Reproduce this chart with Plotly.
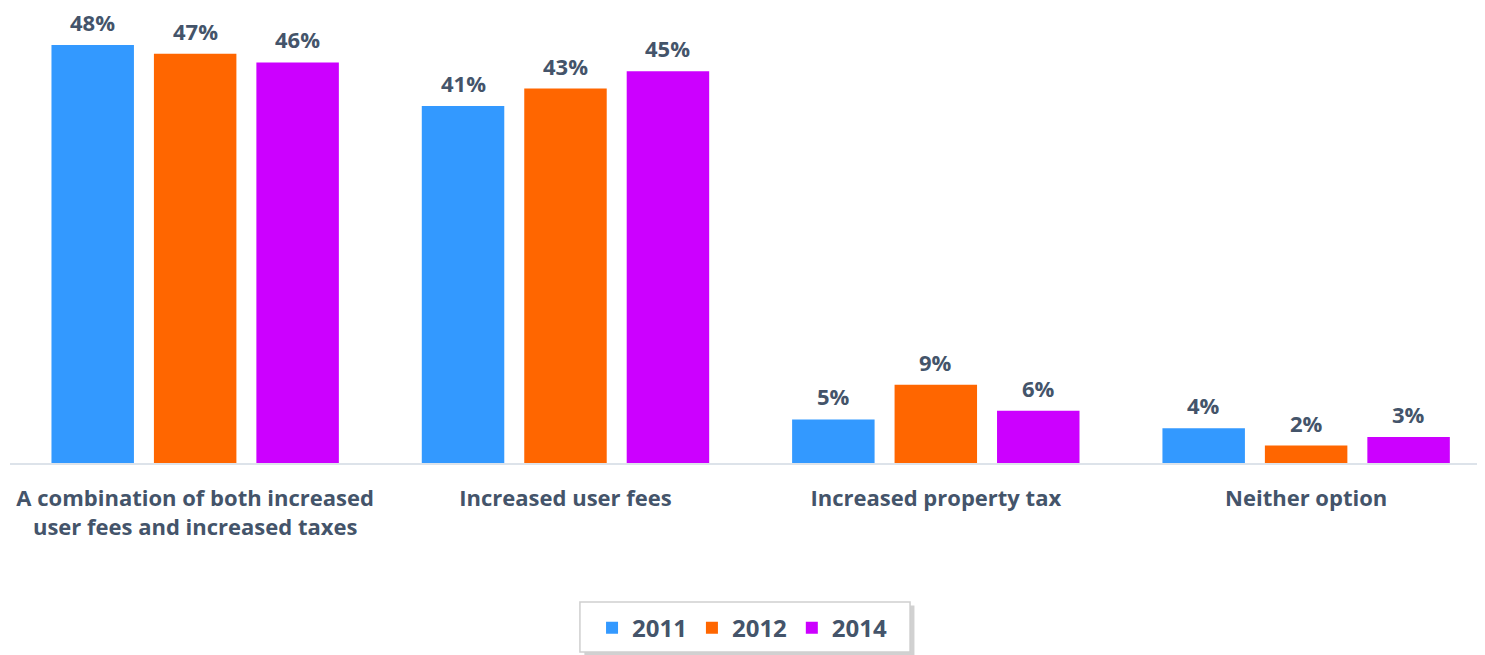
import plotly.graph_objects as go

categories = ["A combination of both increased<br>user fees and increased taxes",
              "Increased user fees", "Increased property tax", "Neither option"]
years = ["2011", "2012", "2014"]
values_2011 = [48, 41, 5, 4]
values_2012 = [47, 43, 9, 2]
values_2014 = [46, 45, 6, 3]
colors = ["#3399FF", "#FF6600", "#CC00FF"]

TEXT = "#44546A"
FONT = "Open Sans"
BARGAP = 0.17
BARGROUPGAP = 0.195

series = [values_2011, values_2012, values_2014]

fig = go.Figure()
for name, vals, col in zip(years, series, colors):
    fig.add_trace(go.Bar(
        name=name, x=categories, y=vals,
        marker=dict(color=col, line=dict(width=0)),
    ))

# data labels placed above each bar, positioned via the axis scales
n = len(series)
slot = (1 - BARGAP) / n
annotations = []
for j, vals in enumerate(series):
    for i, v in enumerate(vals):
        annotations.append(dict(
            x=i + (j - (n - 1) / 2) * slot, y=v, xref="x", yref="y",
            text=f"{v}%", showarrow=False, yanchor="bottom", yshift=7,
            borderpad=0,
            font=dict(family=FONT, size=22, color=TEXT, weight="bold"),
        ))

fig.update_layout(
    width=1477, height=647,
    margin=dict(l=2, r=0, t=4, b=192),
    plot_bgcolor="white", paper_bgcolor="white",
    barmode="group", bargap=BARGAP, bargroupgap=BARGROUPGAP,
    font=dict(family=FONT, color=TEXT),
    annotations=annotations,
    showlegend=True,
    legend=dict(orientation="h", x=0.4963, xanchor="center", y=-0.366, yanchor="middle",
                font=dict(family=FONT, size=24, color=TEXT, weight="bold"),
                borderwidth=0, bgcolor="rgba(0,0,0,0)",
                itemwidth=30, traceorder="normal"),
    shapes=[
        dict(type="rect", xref="paper", yref="paper", x0=0.3864 + 0.003, x1=0.6102 + 0.003,
             y0=-0.4191 - 0.008, y1=-0.3082 - 0.008, line=dict(width=0),
             fillcolor="rgba(0,0,0,0.18)", layer="below"),
        dict(type="rect", xref="paper", yref="paper", x0=0.3864, x1=0.6102,
             y0=-0.4191, y1=-0.3082, line=dict(width=1.5, color="#CFCFCF"),
             fillcolor="white", layer="below"),
    ],
    xaxis=dict(showline=True, linecolor="#DDE3EA", linewidth=2, ticks="",
               range=[-0.5, 3.483], ticklabelstandoff=15,
               tickfont=dict(family=FONT, size=22, color=TEXT, weight="bold"),
               showgrid=False, fixedrange=True),
    yaxis=dict(range=[0, 51.79], visible=False, showgrid=False, fixedrange=True),
)

fig.write_html("out.html")
